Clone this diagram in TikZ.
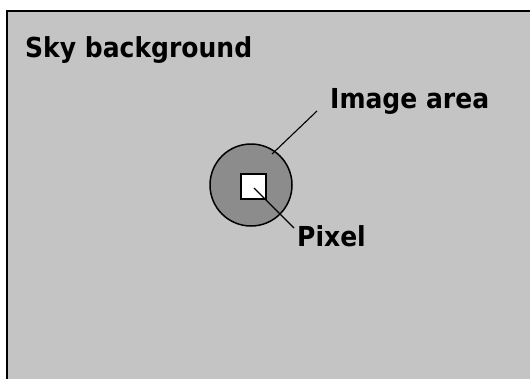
\documentclass[tikz,border=0pt]{standalone}
\usepackage{fontspec}
\setmainfont{DejaVu Sans}[FakeStretch=0.91]
\definecolor{skygray}{HTML}{C4C4C4}
\definecolor{areagray}{HTML}{8C8C8C}
\tikzset{
  lbl/.style={anchor=base west, inner sep=0pt, font=\fontsize{27.5}{31}\selectfont\bfseries},
  leader/.style={draw=black, line width=1.1pt},
}
\begin{document}
\begin{tikzpicture}[x=1pt,y=1pt]
\useasboundingbox (0,0) rectangle (530,-378);
\clip (0,0) rectangle (530,-378);
\fill[white] (0,0) rectangle (530,-378);
\draw[fill=skygray, line width=2.5pt] (7,-11) rectangle (545,-395);
\node[lbl] (sky) at (25,-57) {Sky background};
\node[circle, draw=black, line width=1.5pt, fill=areagray, minimum size=82pt, inner sep=0pt] (area) at (251,-185) {};
\node[rectangle, draw=black, line width=2pt, fill=white, minimum size=25pt, inner sep=0pt] (pixel) at (253,-186) {};
\node[lbl] (arealbl) at (330,-108) {Image area};
\node[lbl] (pixlbl) at (297,-246) {Pixel};
\coordinate (a1) at (272,-154);
\coordinate (a2) at (317,-111);
\coordinate (p1) at (254,-188);
\coordinate (p2) at (294,-228);
\draw[leader] (a1) -- (a2);
\draw[leader] (p1) -- (p2);
\end{tikzpicture}
\end{document}
